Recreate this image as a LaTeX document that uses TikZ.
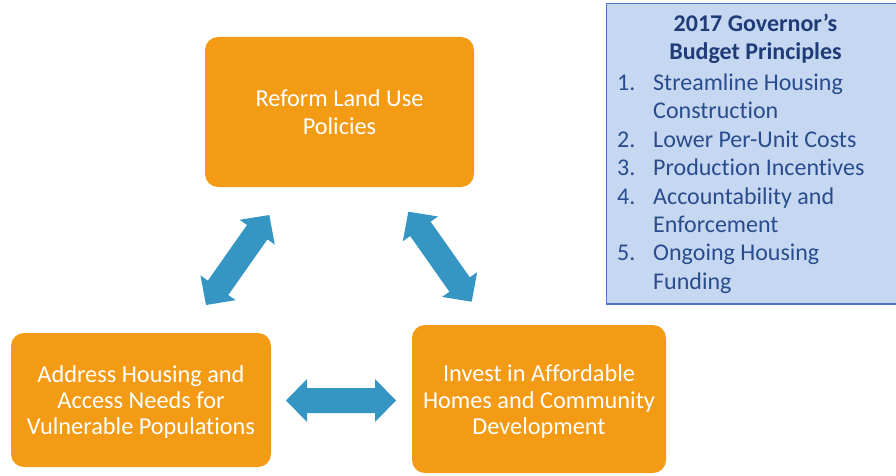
\documentclass[tikz,border=0pt]{standalone}
\usepackage{fontspec}
\setmainfont{Carlito}[Ligatures={NoCommon}]
\usetikzlibrary{calc}
\definecolor{boxorange}{HTML}{F49B16}
\definecolor{arrowblue}{HTML}{3596C3}
\definecolor{panelfill}{HTML}{C6D7F2}
\definecolor{paneldraw}{HTML}{4A76BE}
\definecolor{titleblue}{HTML}{1F3C78}
\definecolor{itemblue}{HTML}{294C8C}
\newcommand\dblblockarrow[2]{%
  \fill[blockarrow] (#1)
    -- ($(#1)!21pt!(#2)!21.5pt!90:(#2)$)
    -- ($(#1)!21pt!(#2)!12.5pt!90:(#2)$)
    -- ($(#2)!21pt!(#1)!12.5pt!-90:(#1)$)
    -- ($(#2)!21pt!(#1)!21.5pt!-90:(#1)$)
    -- (#2)
    -- ($(#2)!21pt!(#1)!21.5pt!90:(#1)$)
    -- ($(#2)!21pt!(#1)!12.5pt!90:(#1)$)
    -- ($(#1)!21pt!(#2)!12.5pt!-90:(#2)$)
    -- ($(#1)!21pt!(#2)!21.5pt!-90:(#2)$)
    -- cycle;}
\begin{document}
\begin{tikzpicture}[x=1pt,y=-1pt,
  box/.style={fill=boxorange, rounded corners=13pt, inner sep=0pt},
  boxtext/.style={text=white, align=center, inner sep=0pt},
  blockarrow/.style={fill=arrowblue},
  panelbox/.style={fill=panelfill, draw=paneldraw, line width=1.5pt},
  ptitle/.style={text=titleblue, font=\bfseries\fontsize{24}{29}\selectfont, anchor=base, inner sep=0pt},
  pitem/.style={text=itemblue, font=\fontsize{24}{29}\selectfont, anchor=base west, inner sep=0pt}]
\useasboundingbox (0,0) rectangle (896,476);

% orange boxes
\node[box, minimum width=269pt, minimum height=150pt] (reform) at (339.5,112) {};
\node[box, minimum width=260pt, minimum height=134pt] (address) at (141,400) {};
\node[box, minimum width=254pt, minimum height=148pt] (invest) at (539,399) {};
\node[boxtext, font=\fontsize{24.3}{28}\selectfont] (reformtext) at ($(reform.center)+(0,0)$) {Reform Land Use\\Policies};
\node[boxtext, font=\fontsize{24.3}{26}\selectfont] (addresstext) at ($(address.center)+(0,2.5)$) {Address Housing and\\Access Needs for\\Vulnerable Populations};
\node[boxtext, font=\fontsize{24.3}{26.5}\selectfont] (investtext) at ($(invest.center)+(0,3)$) {Invest in Affordable\\Homes and Community\\Development};

% block arrows
\coordinate (l1) at (206,305);
\coordinate (l2) at (269.3,215);
\coordinate (r1) at (408.3,211.7);
\coordinate (r2) at (471.7,301.7);
\coordinate (h1) at (286,400.5);
\coordinate (h2) at (396,400.5);
\dblblockarrow{l1}{l2}
\dblblockarrow{r1}{r2}
\dblblockarrow{h1}{h2}

% principles panel
\draw[panelbox] (606.5,3.5) rectangle (899,304) coordinate (panelcorner);
\node[ptitle] (t1) at (755.5,31.5) {2017 Governor’s};
\node[ptitle] (t2) at (755.5,60) {Budget Principles};
\node[pitem] (n1) at (617,90.5) {1.};
\node[pitem] (i1) at (653,90.5) {Streamline Housing};
\node[pitem] (i1b) at (653,118.5) {Construction};
\node[pitem] (n2) at (617,147) {2.};
\node[pitem] (i2) at (653,147) {Lower Per-Unit Costs};
\node[pitem] (n3) at (617,175.5) {3.};
\node[pitem] (i3) at (653,175.5) {Production Incentives};
\node[pitem] (n4) at (617,204) {4.};
\node[pitem] (i4) at (653,204) {Accountability and};
\node[pitem] (i4b) at (653,232) {Enforcement};
\node[pitem] (n5) at (617,260.5) {5.};
\node[pitem] (i5) at (653,260.5) {Ongoing Housing};
\node[pitem] (i5b) at (653,289) {Funding};
\end{tikzpicture}
\end{document}
